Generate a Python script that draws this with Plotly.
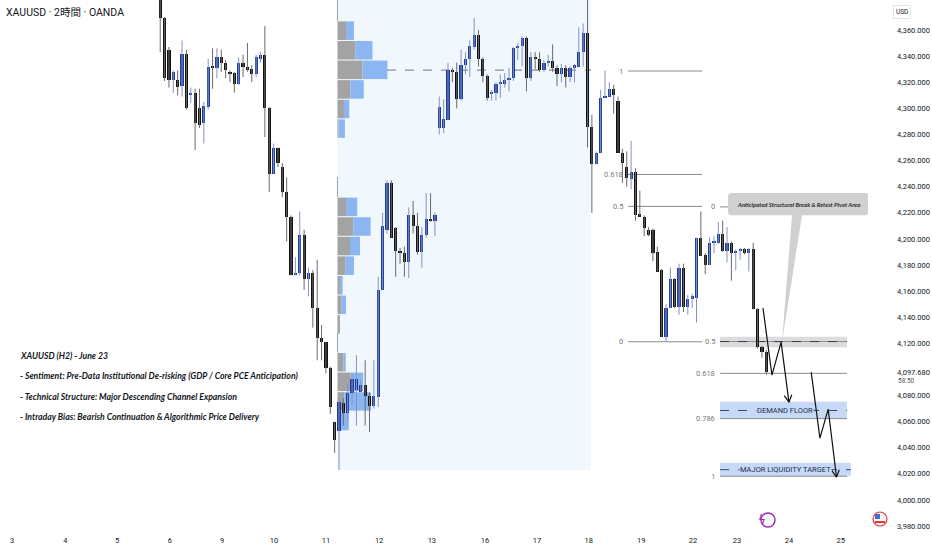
import plotly.graph_objects as go
import math

# ---------------- data ----------------
first_bar = 34
opens = [4392,4369,4345,4322,4322,4317,4342,4310,4312,4300,4289,4301,4332,4331,4339,4335,4328,4327,4319,4335,4332,4330,4326,4338,4341,4300,4250,4270,4255,4236,4217,4172,4174,4203,4169,4174,4147,4124,4121,4101,4060,
         4053,4074,4067,4082,4084,4083,4088,4080,4072,4079,4161,4207,4243,4208,4191,4189,4182,4218,4210,4190,4203,4215,4214,
         4285,4285,4291,4329,4328,4307,4333,4338,4347,4356,4338,4325,4311,4312,4319,4319,4322,4323,4346,4348,4354,4323,4339,4338,4329,4335,4336,4331,4326,4331,4324,4331,4332,4343,4358,4286,4257,
         4266,4308,4309,4315,4306,4266,4255,4246,4251,4219,4217,4207,4207,4190,4176,4125,4147,4169,4148,4178,4148,4154,4155,4201,4188,4180,4197,4197,4204,4191,4197,4189,4191,4192,4189,4192,4146,4117,4113]
highs = [4398,4370,4347,4329,4329,4352,4345,4316,4315,4315,4305,4338,4346,4346,4345,4337,4329,4328,4339,4341,4350,4333,4341,4343,4363,4301,4273,4270,4258,4247,4218,4186,4221,4207,4178,4176,4184,4134,4121,4102,4060,
         4078,4078,4089,4097,4111,4092,4107,4082,4107,4171,4220,4245,4245,4209,4193,4194,4224,4229,4220,4209,4235,4235,4220,
         4309,4307,4335,4331,4335,4345,4343,4352,4369,4360,4339,4326,4314,4320,4326,4327,4331,4347,4350,4355,4355,4343,4343,4343,4337,4341,4349,4333,4334,4333,4332,4334,4362,4365,4390,4295,4267,
         4314,4329,4320,4318,4309,4269,4267,4275,4254,4237,4218,4209,4208,4194,4177,4150,4178,4170,4181,4181,4157,4158,4201,4221,4189,4201,4202,4213,4214,4209,4198,4192,4193,4193,4193,4197,4147,4118,4115]
lows = [4343,4321,4316,4312,4310,4309,4299,4304,4268,4285,4273,4299,4315,4323,4328,4323,4320,4312,4318,4324,4328,4320,4324,4335,4278,4236,4250,4255,4232,4198,4172,4172,4172,4161,4156,4132,4107,4107,4097,4066,4036,
        4023,4057,4061,4073,4057,4083,4057,4052,4070,4071,4161,4204,4201,4171,4181,4171,4170,4204,4188,4178,4201,4213,4202,
        4280,4281,4291,4320,4300,4306,4326,4324,4345,4332,4320,4306,4306,4306,4308,4316,4313,4321,4337,4332,4313,4321,4330,4328,4328,4332,4328,4317,4320,4316,4320,4320,4332,4332,4270,4220,4257,
        4266,4308,4309,4296,4266,4243,4240,4238,4214,4217,4202,4202,4183,4175,4125,4121,4147,4147,4142,4144,4142,4147,4136,4187,4173,4180,4189,4196,4190,4182,4168,4176,4184,4188,4175,4146,4116,4109,4096]
closes = [4369,4323,4322,4328,4316,4342,4300,4312,4289,4287,4302,4332,4331,4339,4335,4329,4326,4319,4335,4332,4329,4326,4339,4341,4300,4250,4270,4258,4236,4217,4172,4174,4203,4169,4174,4147,4124,4121,4101,4071,4046,
          4075,4067,4082,4093,4093,4088,4080,4072,4080,4161,4210,4243,4201,4191,4189,4182,4218,4210,4190,4203,4215,4214,4218,
          4301,4292,4329,4328,4307,4333,4338,4348,4356,4338,4325,4308,4312,4319,4320,4322,4323,4346,4348,4354,4323,4339,4338,4329,4335,4336,4331,4326,4331,4324,4331,4333,4343,4358,4286,4257,4266,
          4308,4309,4315,4310,4266,4258,4247,4251,4218,4217,4208,4203,4189,4175,4125,4147,4169,4148,4178,4148,4154,4156,4201,4187,4180,4197,4198,4204,4191,4197,4189,4191,4192,4189,4192,4146,4117,4113,4097.68]
last_price = 4097.68

day_labels = ["3","4","5","6","9","10","11","12","13","16","17","18","19","22","23","24","25"]
day_pos = [0,12.25,24.1,36.2,48.2,60.1,72.0,84.2,96.3,108.5,120.4,132.3,144.3,156.2,166.3,178.2,190.1]
price_ticks = [3980,4000,4020,4040,4060,4080,4120,4140,4160,4180,4200,4220,4240,4260,4280,4300,4320,4340,4360]

# volume profiles: row edges (price), gray and blue lengths (bars)
vp_left = 74.65
vp1_edges = [4367,4352,4337,4322,4307,4292,4277]
vp1_gray = [1.95,4.13,5.73,2.98,1.49,0.2]
vp1_blue = [1.83,3.9,5.73,3.05,1.22,1.5]
vp2_edges = [4232,4217,4202,4187,4172,4157,4142,4127]
vp2_gray = [1.95,3.62,2.87,1.88,0.57,0.96,0.57]
vp2_blue = [2.59,3.99,2.29,1.9,0.62,0.99,0.0]
vp3_edges = [4113,4098,4083,4068,4053]
vp3_gray = [1.4,3.0,1.6,0.8]
vp3_blue = [0.5,2.9,6.1,1.8]
vp_poc = 4329.3
range_end = 132.8
range_low = 4023

# fibonacci retracements
fib1_levels = [1, 0.618, 0.5, 0]
fib1_hi, fib1_lo = 4328.6, 4121.2
fib1_x = (141.3, 158.3)
fib2_levels = [0, 0.5, 0.618, 0.786, 1]
fib2_top, fib2_bot = 4224.5, 4018.2
fib2_x = (162.4, 191.5)

# projected path points (bar, price)
path1_x = [172.25, 174.3, 176.4, 178.2]
path1_y = [4147.0, 4095.6, 4120.9, 4074.9]
path2_x = [183.3, 185.3, 187.2, 189.1]
path2_y = [4097.9, 4047.4, 4069.6, 4017.5]

notes = ["XAUUSD (H2) - June 23",
         "- Sentiment: Pre-Data Institutional De-risking (GDP / Core PCE Anticipation)",
         "- Technical Structure: Major Descending Channel Expansion",
         "- Intraday Bias: Bearish Continuation & Algorithmic Price Delivery"]
notes_y = [4110.96, 4095.25, 4079.5, 4063.8]

XR = [-2.75, 196.33]
YR = [3977.0, 4383.0]
PLOT_W, PLOT_H = 868, 530
PXX = PLOT_W / (XR[1] - XR[0])
PXY = PLOT_H / (YR[1] - YR[0])

BLUE = "#1f3c9c"
BLACK = "#111111"

fig = go.Figure()

idx = [first_bar + k for k in range(len(opens))]

# wicks
for up, col in ((True, "#8193c6"), (False, "#6a6a6a")):
    wx, wy = [], []
    for i, o, h, l, c in zip(idx, opens, highs, lows, closes):
        if (c >= o) == up:
            wx += [i, i, None]
            wy += [l, h, None]
    fig.add_trace(go.Scatter(x=wx, y=wy, mode="lines", line=dict(color=col, width=1),
                             hoverinfo="skip"))

# bodies
base = []
hgt = []
cols = []
for o, c in zip(opens, closes):
    lo, hi = min(o, c), max(o, c)
    if hi - lo < 1.0:
        mid = (hi + lo) / 2
        lo, hi = mid - 0.5, mid + 0.5
    base.append(lo)
    hgt.append(hi - lo)
    cols.append(BLUE if c >= o else BLACK)
fig.add_trace(go.Bar(x=idx, y=hgt, base=base, width=0.74, marker=dict(color=cols, line=dict(width=0)),
                     hoverinfo="skip"))

shapes = []
# highlighted range
shapes.append(dict(type="rect", xref="x", yref="y", x0=vp_left, x1=range_end, y0=range_low, y1=4400,
                   fillcolor="#f0f7fd", line=dict(width=0), layer="below"))
# volume profiles
for edges, g, b in ((vp1_edges, vp1_gray, vp1_blue), (vp2_edges, vp2_gray, vp2_blue), (vp3_edges, vp3_gray, vp3_blue)):
    for k in range(len(g)):
        y0, y1 = edges[k + 1] + 0.4, edges[k] - 0.4
        if g[k] > 0:
            shapes.append(dict(type="rect", x0=vp_left, x1=vp_left + g[k], y0=y0, y1=y1,
                               fillcolor="#a3a3a3", line=dict(width=0), layer="below"))
        if b[k] > 0:
            shapes.append(dict(type="rect", x0=vp_left + g[k], x1=vp_left + g[k] + b[k], y0=y0, y1=y1,
                               fillcolor="#8cb6f2", line=dict(width=0), layer="below"))
for ytop, ybot in ((4400, vp1_edges[0]), (4247.4, vp2_edges[0]), (4127.8, vp3_edges[0])):
    shapes.append(dict(type="line", x0=vp_left, x1=vp_left, y0=ybot, y1=ytop,
                       line=dict(color="#a0a0a0", width=1), layer="below"))
shapes.append(dict(type="line", x0=86, x1=range_end, y0=vp_poc, y1=vp_poc,
                   line=dict(color="#555555", width=0.8, dash="dash"), layer="below"))

annotations = []
# fib 1
for lv in fib1_levels:
    p = fib1_lo + lv * (fib1_hi - fib1_lo)
    shapes.append(dict(type="line", x0=fib1_x[0], x1=fib1_x[1], y0=p, y1=p,
                       line=dict(color="#8a8a8a", width=1), layer="below"))
    annotations.append(dict(x=fib1_x[0], y=p, text=f"{lv:g}", showarrow=False, xanchor="right",
                            xshift=-3, font=dict(size=7.5, color="#7a7a7a")))

# fib 2
def fib2_price(lv):
    return fib2_top - lv * (fib2_top - fib2_bot)

p05 = fib2_price(0.5)
p0786 = fib2_price(0.786)
p1 = fib2_price(1)
shapes.append(dict(type="rect", x0=fib2_x[0], x1=fib2_x[1], y0=p05 - 4.4, y1=p05 + 3.6,
                   fillcolor="#dcdcdc", line=dict(width=0), layer="below"))
shapes.append(dict(type="rect", x0=fib2_x[0], x1=fib2_x[1], y0=p0786, y1=p0786 + 12.9,
                   fillcolor="#c6d9f7", line=dict(width=0), layer="below"))
shapes.append(dict(type="rect", x0=fib2_x[0], x1=fib2_x[1] + 0.9, y0=p1, y1=p1 + 10.4,
                   fillcolor="#c6d9f7", line=dict(width=0), layer="below"))
for lv in fib2_levels:
    p = fib2_price(lv)
    shapes.append(dict(type="line", x0=fib2_x[0], x1=fib2_x[1], y0=p, y1=p,
                       line=dict(color="#8a8a8a", width=1), layer="below"))
    annotations.append(dict(x=fib2_x[0], y=p, text=f"{lv:g}", showarrow=False, xanchor="right",
                            xshift=-3, font=dict(size=7.5, color="#7a7a7a")))
for yy, x1 in ((p05, fib2_x[1]), (p0786 + 6.2, fib2_x[1]), (p1 + 5.0, fib2_x[1] + 0.9)):
    shapes.append(dict(type="line", x0=fib2_x[0], x1=x1, y0=yy, y1=yy,
                       line=dict(color="#2a3550", width=0.9, dash="dash")))
annotations.append(dict(x=177.3, y=p0786 + 6.2, text="DEMAND FLOOR", showarrow=False,
                        bgcolor="#c6d9f7", borderpad=0, font=dict(size=7.5, color="#1e2b4d", family="Roboto")))
annotations.append(dict(x=177.3, y=p1 + 5.0, text="MAJOR LIQUIDITY TARGET", showarrow=False,
                        bgcolor="#c6d9f7", borderpad=0, font=dict(size=7.5, color="#1e2b4d", family="Roboto")))

# callout
cx0, cx1, cyt, cyb = 164.2, 196.6, 4235.1, 4218.2
rx, ry = 0.9, 3.0
bx0, bx1, tx, ty = 178.9, 181.2, 176.6, 4120.9
path = (f"M {cx0+rx},{cyt} L {cx1-rx},{cyt} Q {cx1},{cyt} {cx1},{cyt-ry} L {cx1},{cyb+ry} "
        f"Q {cx1},{cyb} {cx1-rx},{cyb} L {bx1},{cyb} L {tx},{ty} L {bx0},{cyb} L {cx0+rx},{cyb} "
        f"Q {cx0},{cyb} {cx0},{cyb+ry} L {cx0},{cyt-ry} Q {cx0},{cyt} {cx0+rx},{cyt} Z")
shapes.append(dict(type="path", path=path, fillcolor="#d0d0d0", line=dict(width=0)))
annotations.append(dict(x=180.3, y=4226.7, text="<b><i>Anticipated Structural Break & Retest Pivot Area</i></b>",
                        showarrow=False, font=dict(size=6, color="#2b2b2b", family="Lato")))

# projected paths with arrow heads
def vhead(xs, ys, L=8, ang=28):
    dx = (xs[-1] - xs[-2]) * PXX
    dy = (ys[-1] - ys[-2]) * PXY
    n = math.hypot(dx, dy)
    ux, uy = -dx / n, -dy / n
    out_x, out_y = [], []
    for s in (1, -1):
        a = math.radians(ang) * s
        wx = ux * math.cos(a) - uy * math.sin(a)
        wy = ux * math.sin(a) + uy * math.cos(a)
        out_x.append(xs[-1] + wx * L / PXX)
        out_y.append(ys[-1] + wy * L / PXY)
    return [out_x[0], xs[-1], out_x[1]], [out_y[0], ys[-1], out_y[1]]

for px_, py_ in ((path1_x, path1_y), (path2_x, path2_y)):
    fig.add_trace(go.Scatter(x=px_, y=py_, mode="lines", line=dict(color="#111111", width=1.2), hoverinfo="skip"))
    hx, hy = vhead(px_, py_)
    fig.add_trace(go.Scatter(x=hx, y=hy, mode="lines", line=dict(color="#111111", width=1.2), hoverinfo="skip"))

# notes
for t, yy in zip(notes, notes_y):
    annotations.append(dict(x=1.4, y=yy, text=f"<b><i>{t}</i></b>", showarrow=False, xanchor="left",
                            font=dict(size=8.7, color="#131722", family="Lato")))

# title
annotations.append(dict(xref="paper", yref="paper", x=4 / PLOT_W, y=1 - 13 / PLOT_H, text="XAUUSD · 2時間 · OANDA",
                        showarrow=False, xanchor="left", yanchor="middle",
                        font=dict(size=10.5, color="#131722", family="Roboto, Noto Sans CJK JP")))
# USD box
annotations.append(dict(xref="paper", yref="paper", x=911 / PLOT_W, y=1 - 12 / PLOT_H, text="USD",
                        showarrow=False, yanchor="middle", bordercolor="#e0e3eb", borderwidth=1, borderpad=2,
                        font=dict(size=6.5, color="#131722", family="Roboto")))
# last price
annotations.append(dict(xref="paper", yref="y", x=896 / PLOT_W, y=last_price, text=f"{last_price:,.3f}",
                        showarrow=False, xanchor="left", bgcolor="white", borderpad=0,
                        font=dict(size=7.5, color="#131722", family="Roboto")))
annotations.append(dict(xref="paper", yref="y", x=896 / PLOT_W, y=last_price, yshift=-9, text="58:50",
                        showarrow=False, xanchor="left", font=dict(size=6.5, color="#555555", family="Roboto")))

# icons
def pcircle(cx, cy, r, **kw):
    return dict(type="circle", xref="paper", yref="paper", x0=(cx - r) / PLOT_W, x1=(cx + r) / PLOT_W,
                y0=1 - (cy + r) / PLOT_H, y1=1 - (cy - r) / PLOT_H, **kw)

shapes.append(pcircle(768, 520, 7, line=dict(color="#9c27b0", width=1.4), fillcolor="white"))
annotations.append(dict(xref="paper", yref="paper", x=768 / PLOT_W, y=1 - 520 / PLOT_H, text="ϟ", showarrow=False,
                        yanchor="middle", font=dict(size=12, color="#9c27b0", family="DejaVu Sans")))
shapes.append(pcircle(880, 519, 7, line=dict(color="#e53935", width=1.2), fillcolor="#f5f5f5"))
shapes.append(dict(type="rect", xref="paper", yref="paper", x0=875 / PLOT_W, x1=885 / PLOT_W,
                   y0=1 - 523 / PLOT_H, y1=1 - 521 / PLOT_H, fillcolor="#e53935", line=dict(width=0)))
shapes.append(dict(type="rect", xref="paper", yref="paper", x0=875 / PLOT_W, x1=880 / PLOT_W,
                   y0=1 - 519 / PLOT_H, y1=1 - 514 / PLOT_H, fillcolor="#3f6fd1", line=dict(width=0)))

fig.update_layout(
    width=932, height=550,
    margin=dict(l=0, r=64, t=0, b=20),
    plot_bgcolor="white", paper_bgcolor="white",
    showlegend=False, barmode="overlay", bargap=0,
    shapes=shapes, annotations=annotations,
    font=dict(family="Roboto", color="#131722"),
    xaxis=dict(range=XR, tickvals=day_pos, ticktext=day_labels, showgrid=False, zeroline=False,
               ticks="", tickfont=dict(size=7.5, color="#131722"), ticklabelstandoff=4, fixedrange=True),
    yaxis=dict(range=YR, side="right", tickvals=price_ticks, tickformat=",.3f", showgrid=False,
               zeroline=False, ticks="", tickfont=dict(size=7.5, color="#131722"), ticklabelstandoff=28,
               fixedrange=True),
)

fig.write_html("out.html", config={"displayModeBar": False},
               post_script="document.body.style.margin='0';document.body.style.overflow='hidden';")
